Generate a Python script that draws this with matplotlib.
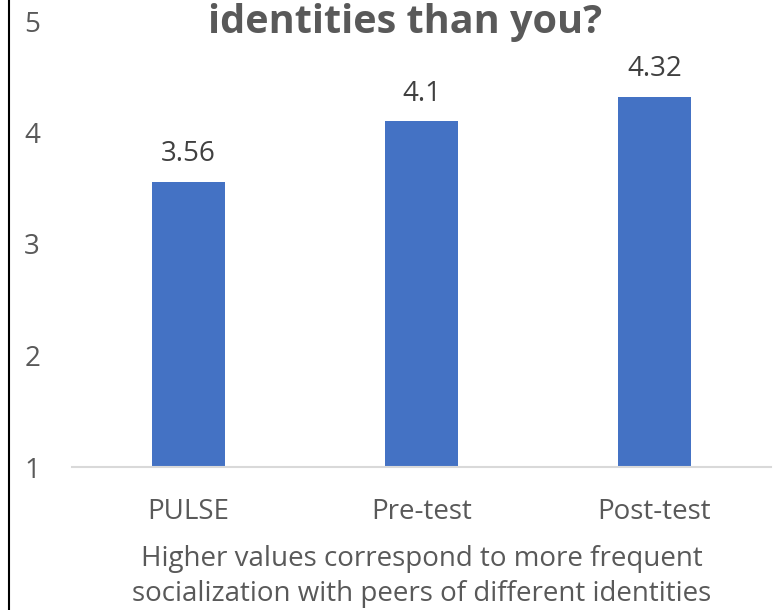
import matplotlib.pyplot as plt
from matplotlib.lines import Line2D

categories = ["PULSE", "Pre-test", "Post-test"]
values = [3.56, 4.1, 4.32]
yticks = [1, 2, 3, 4, 5]
title = "identities than you?"
xlabel = "Higher values correspond to more frequent\nsocialization with peers of different identities"

plt.rcParams['font.family'] = ['Open Sans', 'DejaVu Sans']

fig = plt.figure(figsize=(7.81, 6.1), dpi=100)
ax = fig.add_axes([72 / 781, 1 - 467 / 610, (771 - 72) / 781, (467 - 21) / 610])

x = range(len(categories))
bars = ax.bar(x, [v - 1 for v in values], bottom=1, width=0.313, color="#4472C4")
for xi, v in zip(x, values):
    ax.text(xi, v + 0.12, f"{v:g}", ha="center", va="bottom", fontsize=20, color="#404040")

ax.set_xlim(-0.5, 2.5)
ax.set_ylim(1, 5)
ax.set_yticks(yticks)
ax.set_xticks(list(x))
ax.set_xticklabels(categories)
ax.tick_params(axis="both", length=0, labelsize=20, colors="#595959")
ax.tick_params(axis="y", pad=23)
ax.tick_params(axis="x", pad=22)
for s in ["top", "right", "left"]:
    ax.spines[s].set_visible(False)
ax.spines["bottom"].set_color("#D9D9D9")
ax.spines["bottom"].set_linewidth(1.5)

ax.set_xlabel(xlabel, fontsize=20, color="#595959", labelpad=14, linespacing=1.33)

fig.text(405 / 781, 1 - 23 / 610, title, ha="center", va="center",
         fontsize=28.5, fontweight="bold", color="#595959")

fig.add_artist(Line2D([8.5 / 781, 8.5 / 781], [0, 1], color="black", linewidth=1.5))

fig.savefig("out.png", dpi=100)
